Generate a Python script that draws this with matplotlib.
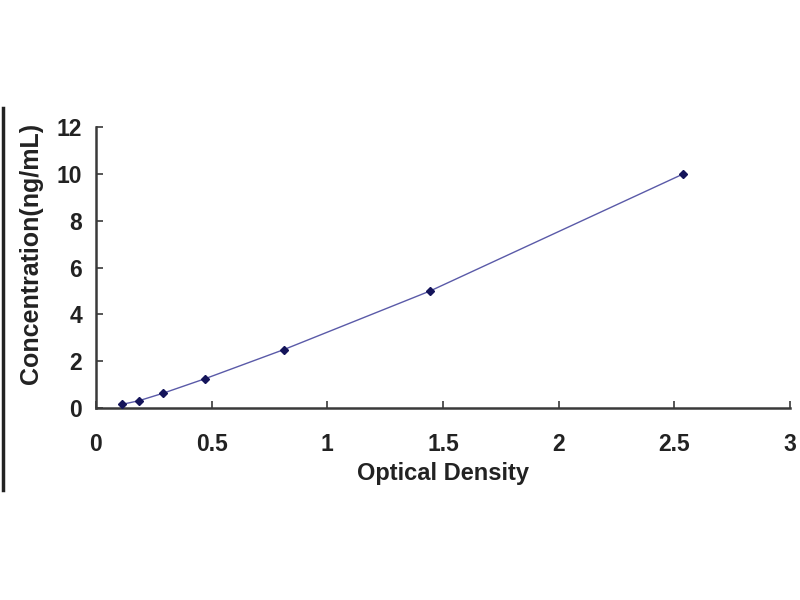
import matplotlib
matplotlib.use("Agg")
import matplotlib.pyplot as plt
from matplotlib.lines import Line2D

# standard curve points
od = [0.113, 0.186, 0.288, 0.471, 0.813, 1.444, 2.538]
conc = [0.156, 0.312, 0.625, 1.25, 2.5, 5.0, 10.0]

x_ticks = [0, 0.5, 1, 1.5, 2, 2.5, 3]
x_tick_labels = ["0", "0.5", "1", "1.5", "2", "2.5", "3"]
y_ticks = [0, 2, 4, 6, 8, 10, 12]

plt.rcParams["font.family"] = ["Liberation Sans", "DejaVu Sans"]
plt.rcParams["font.weight"] = "bold"

fig = plt.figure(figsize=(8, 6), dpi=100)
ax = fig.add_axes([0.12, 0.32, 0.8675, 0.468])

ax.plot(od, conc, color="#5a5aa8", linewidth=1.0, zorder=2)
ax.plot(od, conc, linestyle="none", marker="D", markersize=4.5,
        color="#14145a", zorder=3)

ax.set_xlim(0, 3)
ax.set_ylim(0, 12)
ax.set_xticks(x_ticks)
ax.set_xticklabels(x_tick_labels)
ax.set_yticks(y_ticks)

for side in ("top", "right"):
    ax.spines[side].set_visible(False)
for side in ("left", "bottom"):
    ax.spines[side].set_color("#3a3a3a")
    ax.spines[side].set_linewidth(1.8)

ax.tick_params(axis="both", direction="in", length=5, width=1.2,
               color="#3a3a3a", labelsize=16.5, labelcolor="#222222")
ax.tick_params(axis="x", pad=18)
ax.tick_params(axis="y", pad=10)

ax.set_xlabel("Optical Density", fontsize=17, fontweight="bold",
              color="#222222", labelpad=4)
ax.set_ylabel("Concentration(ng/mL)", fontsize=18, fontweight="bold",
              color="#222222")
ax.yaxis.set_label_coords(-0.077, 0.55)

# dark border strip on the far left of the picture
fig.add_artist(Line2D([0.004, 0.004], [1 - 108 / 600, 1 - 490 / 600],
                      color="#222222", linewidth=2.5))

fig.savefig("out.png", dpi=100)
